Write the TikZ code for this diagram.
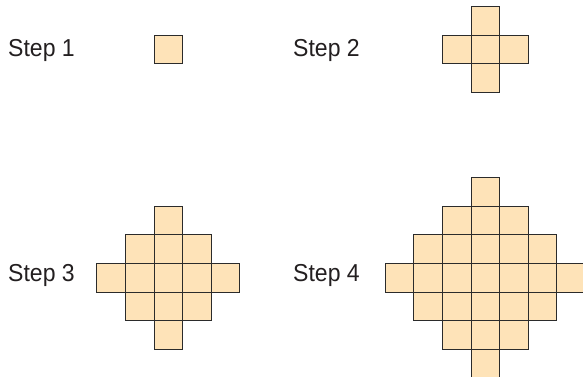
\documentclass[tikz,border=0pt]{standalone}
\usepackage{fontspec}
\usepackage{graphicx}
\setmainfont{Liberation Sans}
\definecolor{tilefill}{HTML}{FEE3B8}
\definecolor{tileedge}{HTML}{2B2B2B}
\definecolor{labelcol}{HTML}{231F20}
\newcommand{\steptext}[1]{\scalebox{0.94}[1]{#1}}
\begin{document}
\begin{tikzpicture}[x=1pt,y=-1pt,
  tile/.style={draw=tileedge,fill=tilefill,line width=0.9pt,minimum size=28.6pt,inner sep=0pt,outer sep=0pt,anchor=north west},
  steplabel/.style={anchor=base west,inner sep=0pt,text=labelcol,font=\fontsize{24.5}{29}\selectfont}]
\useasboundingbox (0,0) rectangle (583,376);
\clip (0,0) rectangle (583,376);
\def\s{28.6}
% labels
\node[steplabel] (l1) at (8,56.7) {\steptext{Step 1}};
\node[steplabel] (l2) at (293,56.7) {\steptext{Step 2}};
\node[steplabel] (l3) at (8,281.7) {\steptext{Step 3}};
\node[steplabel] (l4) at (293,281.7) {\steptext{Step 4}};
% Step 1
\node[tile] (a00) at (154,35) {};
% Step 2
\foreach \i/\j in {0/-1,-1/0,0/0,1/0,0/1}{
  \node[tile] (b\i\j) at ({471+\i*\s},{35+\j*\s}) {};
}
% Step 3
\foreach \i in {-2,...,2}{
  \foreach \j in {-2,...,2}{
    \pgfmathtruncatemacro{\d}{abs(\i)+abs(\j)}
    \ifnum\d<3
      \node[tile] (c\i\j) at ({154+\i*\s},{263.5+\j*\s}) {};
    \fi
  }
}
% Step 4
\foreach \i in {-3,...,3}{
  \foreach \j in {-3,...,3}{
    \pgfmathtruncatemacro{\d}{abs(\i)+abs(\j)}
    \ifnum\d<4
      \node[tile] (d\i\j) at ({471+\i*\s},{263.5+\j*\s}) {};
    \fi
  }
}
\end{tikzpicture}
\end{document}
